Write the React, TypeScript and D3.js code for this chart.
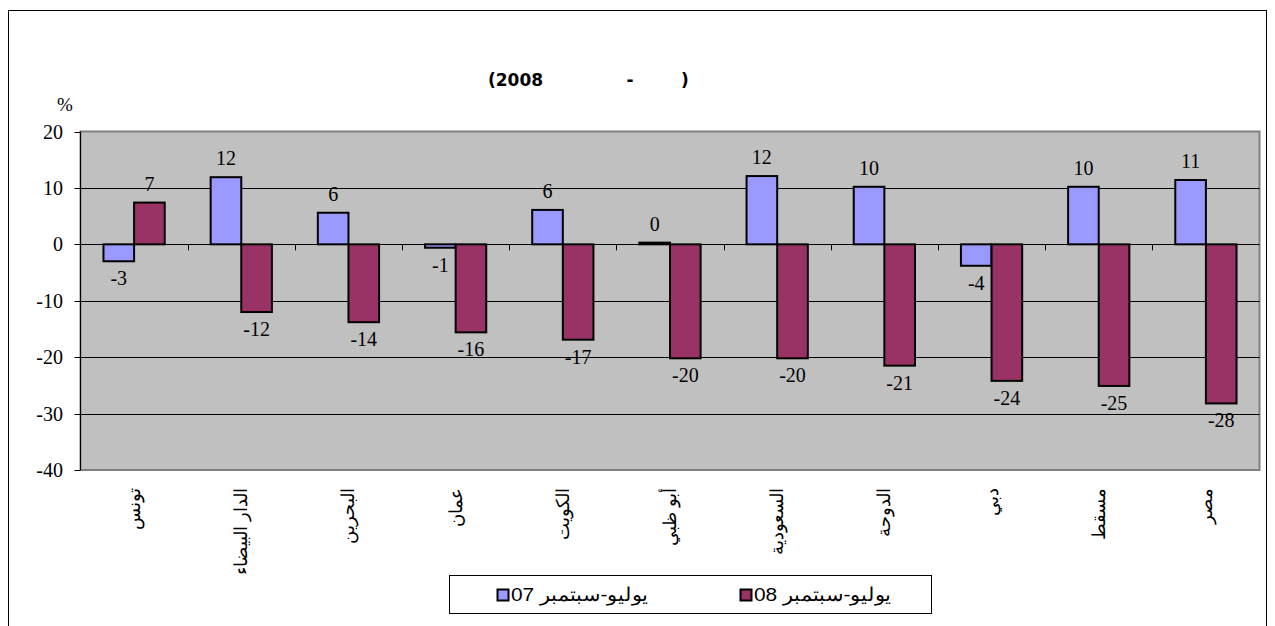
import React from "react";
import * as d3 from "d3";

const categories = ["تونس", "الدار البيضاء", "البحرين", "عمان", "الكويت", "أبو ظبي", "السعودية", "الدوحة", "دبي", "مسقط", "مصر"];
const series07 = [-3.0, 11.9, 5.6, -0.6, 6.1, 0.3, 12.1, 10.2, -3.8, 10.2, 11.4];
const series08 = [7.4, -12.0, -13.8, -15.6, -16.9, -20.2, -20.2, -21.5, -24.2, -25.1, -28.2];
const seriesNames = ["يوليو-سبتمبر 07", "يوليو-سبتمبر 08"];
const seriesColors = ["#9999FF", "#993366"];
const yTicks = [20, 10, 0, -10, -20, -30, -40];
const titleParts = ["(2008", "-", ")"];

export default function App() {
  const W = 1275, H = 626;
  const left = 80.5, right = 1259.5, top = 131.5, bottom = 470;
  const y = d3.scaleLinear().domain([-40, 20]).range([bottom, top]);
  const x = d3.scaleBand<string>().domain(categories).range([left, right]).padding(0);
  const inner = d3.scaleBand<number>().domain([0, 1]).range([0, x.bandwidth()]).paddingInner(0).paddingOuter(0.75);
  const all = [series07, series08];
  const serif = "'Liberation Serif', 'Times New Roman', serif";
  const sans = "'Liberation Sans', Arial, sans-serif";
  const titleFont = "'DejaVu Sans', Verdana, sans-serif";

  return (
    <svg width={W} height={H} style={{ position: "fixed", left: 0, top: 0, background: "#fff" }}>
      <rect x={8.5} y={10.5} width={1258} height={700} fill="#fff" stroke="#000" strokeWidth={1} />
      {/* title */}
      <text x={488} y={86} fontFamily={titleFont} fontWeight="bold" fontSize={17}>{titleParts[0]}</text>
      <text x={630} y={86} textAnchor="middle" fontFamily={titleFont} fontWeight="bold" fontSize={17}>{titleParts[1]}</text>
      <text x={685} y={86} textAnchor="middle" fontFamily={titleFont} fontWeight="bold" fontSize={17}>{titleParts[2]}</text>
      <text x={65} y={111} textAnchor="middle" fontFamily={serif} fontSize={19}>%</text>
      {/* plot area */}
      <rect x={left} y={top} width={right - left} height={bottom - top} fill="#C0C0C0" stroke="#808080" strokeWidth={2} />
      {yTicks.filter(t => t !== 20 && t !== -40).map(t => (
        <line key={t} x1={left} x2={right} y1={Math.round(y(t)) + 0.5} y2={Math.round(y(t)) + 0.5} stroke="#000" strokeWidth={1} />
      ))}
      {/* y axis */}
      <line x1={left} x2={left} y1={top} y2={bottom} stroke="#000" strokeWidth={1} />
      {yTicks.map(t => (
        <g key={t}>
          <line x1={left - 6} x2={left} y1={Math.round(y(t)) + 0.5} y2={Math.round(y(t)) + 0.5} stroke="#000" />
          <text x={63} y={y(t) + 7} textAnchor="end" fontFamily={serif} fontSize={20}>{t}</text>
        </g>
      ))}
      {/* x ticks on zero line */}
      {categories.slice(1).map(c => (
        <line key={c} x1={Math.round(x(c)!) + 0.5} x2={Math.round(x(c)!) + 0.5} y1={y(0)} y2={y(0) + 6} stroke="#000" />
      ))}
      {/* bars */}
      {categories.map((c, i) => (
        <g key={c}>
          {all.map((s, k) => {
            const v = s[i];
            const bx = x(c)! + inner(k)!;
            const bw = inner.bandwidth();
            const y0 = y(Math.max(0, v));
            const h = Math.abs(y(v) - y(0));
            return (
              <g key={k}>
                <rect x={bx} y={y0} width={bw} height={Math.max(h, 0.5)} fill={seriesColors[k]} stroke="#000" strokeWidth={2} />
                <text x={bx + bw / 2} y={v >= 0 ? y(v) - 12 : y(v) + 24} textAnchor="middle" fontFamily={serif} fontSize={20}>
                  {Math.round(v)}
                </text>
              </g>
            );
          })}
        </g>
      ))}
      {/* category labels */}
      {categories.map(c => {
        const cx = x(c)! + x.bandwidth() / 2;
        return (
          <text key={c} transform={`translate(${cx},488) rotate(-90)`} textAnchor="end" dominantBaseline="central" fontFamily={sans} fontSize={18}>
            {c}
          </text>
        );
      })}
      {/* legend */}
      <rect x={449.5} y={575.5} width={482} height={38} fill="#fff" stroke="#000" strokeWidth={1} />
      {seriesNames.map((n, k) => {
        const sx = k === 0 ? 497 : 740;
        return (
          <g key={n}>
            <rect x={sx + 0.5} y={589.5} width={11} height={11} fill={seriesColors[k]} stroke="#000" strokeWidth={2} />
            <text x={sx + 14} y={601} fontFamily={sans} fontSize={19} textLength={137} lengthAdjust="spacingAndGlyphs">{n}</text>
          </g>
        );
      })}
    </svg>
  );
}
